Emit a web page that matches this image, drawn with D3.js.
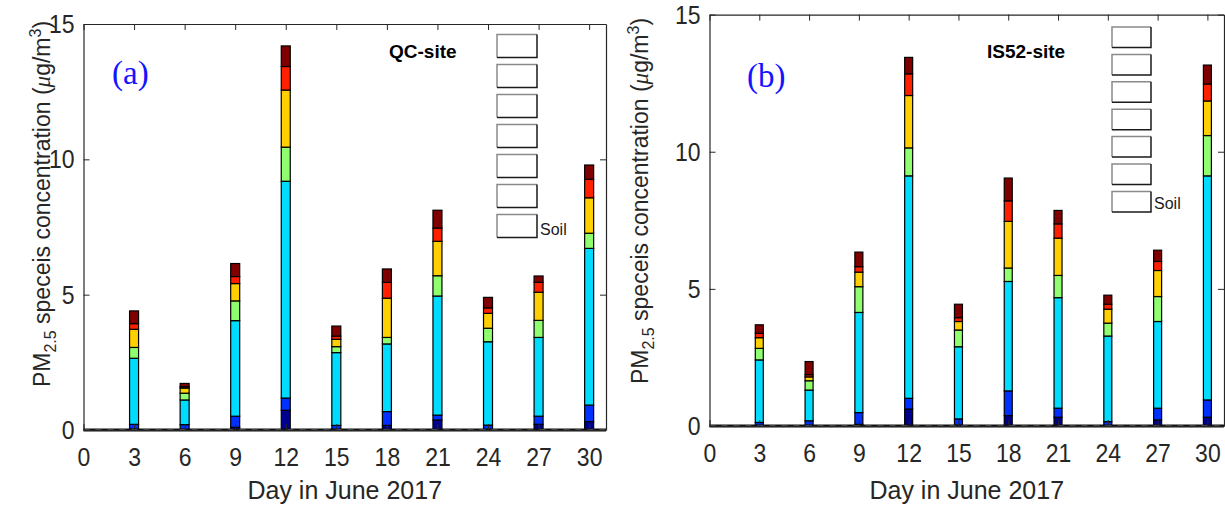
<!DOCTYPE html>
<html>
<head>
<meta charset="utf-8">
<script src="https://cdn.jsdelivr.net/npm/d3@7/dist/d3.min.js"></script>
<style>
  body { margin: 0; background: #fff; }
  svg text { font-family: "Liberation Sans", Arial, sans-serif; }
</style>
</head>
<body>
<div id="chart"></div>
<script>
// days sampled
var days = [3, 6, 9, 12, 15, 18, 21, 24, 27, 30];
var xTicks = [0, 3, 6, 9, 12, 15, 18, 21, 24, 27, 30];
var yTicks = [0, 5, 10, 15];
var legendLabels = ["", "", "", "", "", "", "Soil"];

// layer colours, bottom to top of each stack
var layerColors = ["#00008f", "#0031ff", "#00dcff", "#8fff70", "#ffcf00", "#ff2000", "#800000"];

// QC-site, one array per stacked layer (bottom -> top)
var qcNavy   = [0.03, 0.02, 0.10, 0.73, 0.02, 0.17, 0.37, 0.02, 0.21, 0.31];
var qcBlue   = [0.18, 0.18, 0.41, 0.45, 0.15, 0.51, 0.18, 0.16, 0.30, 0.61];
var qcCyan   = [2.44, 0.91, 3.53, 8.01, 2.69, 2.50, 4.40, 3.08, 2.91, 5.79];
var qcGreen  = [0.40, 0.25, 0.73, 1.26, 0.22, 0.24, 0.75, 0.50, 0.63, 0.56];
var qcGold   = [0.67, 0.19, 0.64, 2.11, 0.27, 1.45, 1.27, 0.55, 1.04, 1.31];
var qcRed    = [0.21, 0.05, 0.26, 0.87, 0.12, 0.59, 0.49, 0.20, 0.37, 0.68];
var qcMaroon = [0.47, 0.12, 0.48, 0.76, 0.37, 0.49, 0.66, 0.39, 0.23, 0.53];

// IS52-site
var isNavy   = [0.02, 0.02, 0.06, 0.62, 0.02, 0.38, 0.32, 0.02, 0.22, 0.32];
var isBlue   = [0.11, 0.17, 0.43, 0.39, 0.24, 0.90, 0.33, 0.14, 0.43, 0.63];
var isCyan   = [2.28, 1.12, 3.65, 8.11, 2.63, 3.99, 4.03, 3.12, 3.16, 8.17];
var isGreen  = [0.42, 0.34, 0.94, 1.02, 0.61, 0.49, 0.81, 0.47, 0.91, 1.47];
var isGold   = [0.39, 0.14, 0.53, 1.91, 0.31, 1.70, 1.36, 0.51, 0.95, 1.26];
var isRed    = [0.16, 0.08, 0.20, 0.79, 0.14, 0.75, 0.52, 0.18, 0.33, 0.62];
var isMaroon = [0.31, 0.48, 0.53, 0.60, 0.49, 0.83, 0.49, 0.33, 0.41, 0.69];

var W = 1225, H = 513;
var axisColor = "#262626";

var svg = d3.select("#chart")
    .append("svg")
    .attr("width", W)
    .attr("height", H);

function drawPanel(p){
    var x = d3.scaleLinear().domain([0, 31]).range([p.left, p.right]);
    var y = d3.scaleLinear().domain([0, 15]).range([p.bottom, p.top]);
    var g = svg.append("g");

    //stack the layers
    var rows = days.map(function(d, i){
        var r = {day: d};
        p.layers.forEach(function(arr, k){ r["L" + k] = arr[i]; });
        return r;
    });
    var keys = p.layers.map(function(a, k){ return "L" + k; });
    var stacked = d3.stack().keys(keys)(rows);

    g.selectAll("g.layer")
        .data(stacked)
        .enter()
        .append("g")
        .attr("class", "layer")
        .attr("fill", function(d, k){ return layerColors[k]; })
        .selectAll("rect")
        .data(function(d){ return d; })
        .enter()
        .append("rect")
        .attr("x", function(d){ return x(d.data.day) - p.barW/2; })
        .attr("width", p.barW)
        .attr("y", function(d){ return y(d[1]); })
        .attr("height", function(d){ return y(d[0]) - y(d[1]); })
        .attr("stroke", "#000")
        .attr("stroke-width", 1.2);

    //dark dashed baseline at zero
    g.append("line")
        .attr("x1", p.left).attr("x2", p.right)
        .attr("y1", y(0)).attr("y2", y(0))
        .attr("stroke", "#111").attr("stroke-width", 3);
    g.append("line")
        .attr("x1", p.left).attr("x2", p.right)
        .attr("y1", y(0)).attr("y2", y(0))
        .attr("stroke", "#444").attr("stroke-width", 2)
        .attr("stroke-dasharray", "6,6");

    //axes, ticks pointing inward like matlab
    var bottom = g.append("g")
        .attr("transform", "translate(0," + p.bottom + ")")
        .call(d3.axisBottom(x).tickValues(xTicks).tickSizeInner(-6).tickSizeOuter(0));
    var left = g.append("g")
        .attr("transform", "translate(" + p.left + ",0)")
        .call(d3.axisLeft(y).tickValues(yTicks).tickSizeInner(-6).tickSizeOuter(0).tickPadding(9));
    var top = g.append("g")
        .attr("transform", "translate(0," + p.top + ")")
        .call(d3.axisTop(x).tickValues(xTicks).tickSizeInner(-6).tickSizeOuter(0).tickFormat(""));
    var right = g.append("g")
        .attr("transform", "translate(" + p.right + ",0)")
        .call(d3.axisRight(y).tickValues(yTicks).tickSizeInner(-6).tickSizeOuter(0).tickFormat(""));

    [bottom, left, top, right].forEach(function(a){
        a.select(".domain").attr("stroke", axisColor).attr("stroke-width", 1.2);
        a.selectAll(".tick line").attr("stroke", axisColor);
        a.selectAll(".tick text")
            .attr("fill", axisColor)
            .style("font-size", "23px")
            .style("font-family", "'Liberation Sans', Arial, sans-serif");
    });
    //labels a bit taller than wide, as in the matlab export
    bottom.selectAll(".tick text")
        .attr("y", 0).attr("dy", null)
        .attr("transform", "translate(0,36) scale(1,1.15)");
    left.selectAll(".tick text")
        .attr("transform", "scale(1,1.15)");
    bottom.select(".domain").raise();

    //axis labels
    g.append("text")
        .attr("x", (p.left + p.right)/2)
        .attr("y", 499)
        .attr("text-anchor", "middle")
        .attr("fill", axisColor)
        .style("font-size", "25px")
        .text("Day in June 2017");

    var yl = g.append("text")
        .attr("transform", "translate(" + p.ylabX + "," + p.ylabY + ") rotate(-90)")
        .attr("text-anchor", "middle")
        .attr("fill", axisColor)
        .style("font-size", "23px");
    yl.append("tspan").text("PM");
    yl.append("tspan").attr("dy", 6).style("font-size", "16px").text("2.5");
    yl.append("tspan").attr("dy", -6).text(" speceis concentration (");
    yl.append("tspan").style("font-family", "'Liberation Serif', serif").style("font-style", "italic").text("\u03bc");
    yl.append("tspan").text("g/m");
    yl.append("tspan").attr("dy", -9).style("font-size", "16px").text("3");
    yl.append("tspan").attr("dy", 9).text(")");

    //panel letter and site name
    g.append("text")
        .attr("x", p.letterX).attr("y", p.letterY)
        .attr("fill", "#1414ff")
        .style("font-family", "'Liberation Serif', 'Times New Roman', serif")
        .style("font-size", "33px")
        .text(p.letter);
    g.append("text")
        .attr("x", p.siteX).attr("y", 58)
        .attr("fill", "#000")
        .style("font-weight", "bold")
        .style("font-size", "19px")
        .text(p.site);

    //legend with empty swatches
    legendLabels.forEach(function(lab, i){
        var ly = p.legTop + i*p.legStep;
        var lg = g.append("g");
        lg.append("rect")
            .attr("x", p.legX).attr("y", ly)
            .attr("width", p.legW).attr("height", p.legH)
            .attr("fill", "#fff").attr("stroke", "none");
        lg.append("path")
            .attr("d", "M" + p.legX + "," + (ly + p.legH) + "V" + ly + "H" + (p.legX + p.legW))
            .attr("fill", "none").attr("stroke", "#8a8a8a").attr("stroke-width", 1.5);
        lg.append("path")
            .attr("d", "M" + (p.legX + p.legW) + "," + ly + "V" + (ly + p.legH) + "H" + p.legX)
            .attr("fill", "none").attr("stroke", "#1a1a1a").attr("stroke-width", 1.5);
        if(lab){
            lg.append("text")
                .attr("x", p.legX + p.legW + 3)
                .attr("y", ly + p.legH - 3)
                .attr("fill", "#1a1a1a")
                .style("font-size", "16px")
                .text(lab);
        }
    });
}

drawPanel({
    left: 83.5, right: 606, top: 24, bottom: 430,
    barW: 9,
    layers: [qcNavy, qcBlue, qcCyan, qcGreen, qcGold, qcRed, qcMaroon],
    ylabX: 50, ylabY: 204,
    letter: "(a)", letterX: 112, letterY: 84,
    site: "QC-site", siteX: 389,
    legX: 497, legTop: 34.5, legW: 40, legH: 23, legStep: 30
});

drawPanel({
    left: 709.5, right: 1224, top: 14.6, bottom: 426,
    barW: 8,
    layers: [isNavy, isBlue, isCyan, isGreen, isGold, isRed, isMaroon],
    ylabX: 648, ylabY: 201,
    letter: "(b)", letterX: 747, letterY: 87,
    site: "IS52-site", siteX: 987,
    legX: 1112, legTop: 27, legW: 39, legH: 20.5, legStep: 27.4
});
</script>
</body>
</html>
